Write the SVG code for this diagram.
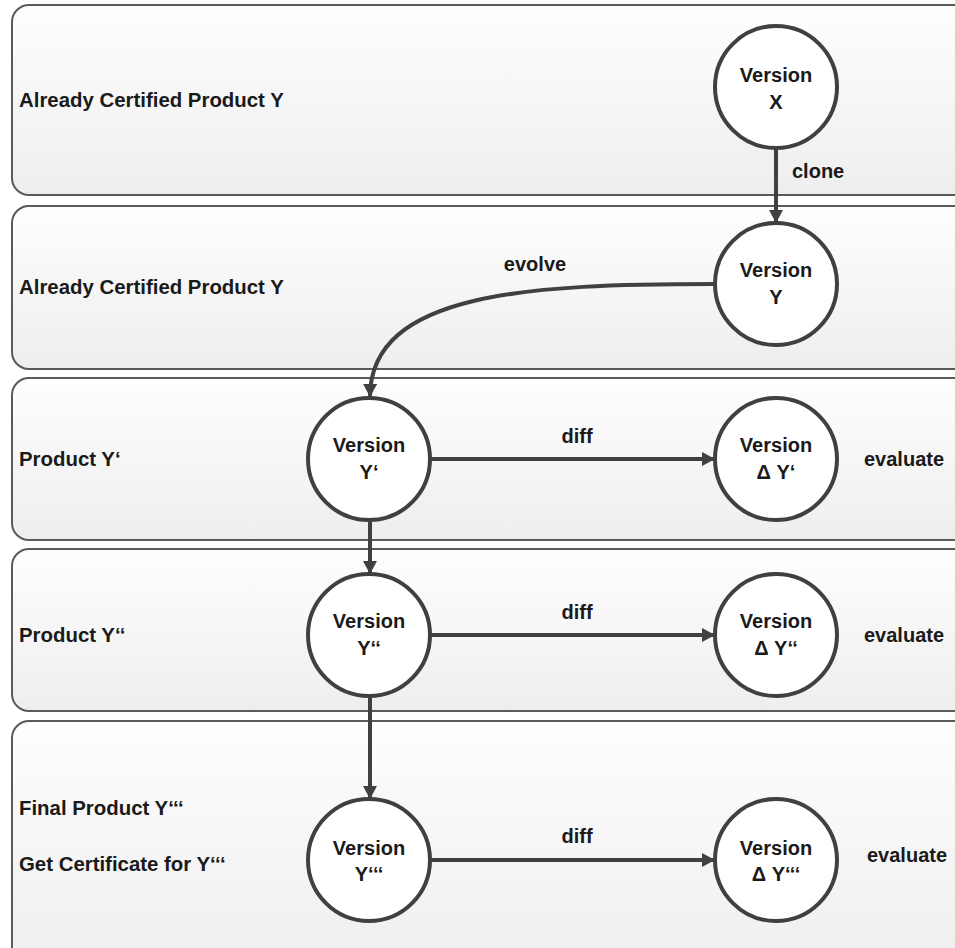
<svg xmlns="http://www.w3.org/2000/svg" width="955" height="948" viewBox="0 0 955 948">
  <defs>
    <linearGradient id="laneFill" x1="0" y1="0" x2="0" y2="1">
      <stop offset="0" stop-color="#fefefe"/>
      <stop offset="1" stop-color="#eeeeee"/>
    </linearGradient>
    <marker id="arrow" markerWidth="14" markerHeight="14" refX="12" refY="7" orient="auto" markerUnits="userSpaceOnUse">
      <path d="M0,0 L13,7 L0,14 Z" fill="#404040"/>
    </marker>
    <style>
      .lane { fill: url(#laneFill); stroke: #5a5a5a; stroke-width: 2; }
      .node { fill: #ffffff; stroke: #404040; stroke-width: 4; }
      .edge { fill: none; stroke: #404040; stroke-width: 4; marker-end: url(#arrow); }
      text { font-family: "Liberation Sans", Arial, sans-serif; font-weight: bold; font-size: 20px; fill: #1a1a1a; }
      .lbl { font-size: 20.4px; }
      .c { text-anchor: middle; }
    </style>
  </defs>

  <!-- swimlanes -->
  <g id="lanes">
    <rect class="lane" x="12" y="5" width="958" height="190" rx="17"/>
    <rect class="lane" x="12" y="206" width="958" height="163" rx="17"/>
    <rect class="lane" x="12" y="378" width="958" height="162" rx="17"/>
    <rect class="lane" x="12" y="549" width="958" height="162" rx="17"/>
    <rect class="lane" x="12" y="721" width="958" height="245" rx="17"/>
  </g>

  <!-- lane titles -->
  <g id="lane-labels">
    <text class="lbl" x="19" y="107">Already Certified Product Y</text>
    <text class="lbl" x="19" y="294">Already Certified Product Y</text>
    <text class="lbl" x="19" y="466">Product Y‘</text>
    <text class="lbl" x="19" y="642">Product Y‘‘</text>
    <text class="lbl" x="19" y="815">Final Product Y‘‘‘</text>
    <text class="lbl" x="19" y="871">Get Certificate for Y‘‘‘</text>
  </g>

  <!-- connectors -->
  <g id="connectors">
    <path class="edge" d="M776,148 L776,222"/>
    <path class="edge" d="M715,284 C530,284 371,292 370,396"/>
    <path class="edge" d="M430,459 L714,459"/>
    <path class="edge" d="M370,520 L370,573"/>
    <path class="edge" d="M430,635 L714,635"/>
    <path class="edge" d="M370,696 L370,798"/>
    <path class="edge" d="M430,860 L714,860"/>
    <text x="792" y="178">clone</text>
    <text class="c" x="535" y="271">evolve</text>
    <text class="c" x="577" y="443">diff</text>
    <text class="c" x="577" y="619">diff</text>
    <text class="c" x="577" y="843">diff</text>
  </g>

  <!-- version nodes -->
  <g id="node-x">
    <circle class="node" cx="776" cy="87" r="61"/>
    <text class="c" x="776" y="82">Version</text>
    <text class="c" x="776" y="109">X</text>
  </g>
  <g id="node-y">
    <circle class="node" cx="776" cy="284" r="61"/>
    <text class="c" x="776" y="277">Version</text>
    <text class="c" x="776" y="304">Y</text>
  </g>
  <g id="node-y1">
    <circle class="node" cx="369" cy="459" r="61"/>
    <text class="c" x="369" y="452">Version</text>
    <text class="c" x="369" y="479">Y‘</text>
  </g>
  <g id="node-dy1">
    <circle class="node" cx="776" cy="459" r="61"/>
    <text class="c" x="776" y="452">Version</text>
    <text class="c" x="776" y="479">Δ Y‘</text>
  </g>
  <g id="node-y2">
    <circle class="node" cx="369" cy="635" r="61"/>
    <text class="c" x="369" y="628">Version</text>
    <text class="c" x="369" y="655">Y‘‘</text>
  </g>
  <g id="node-dy2">
    <circle class="node" cx="776" cy="635" r="61"/>
    <text class="c" x="776" y="628">Version</text>
    <text class="c" x="776" y="655">Δ Y‘‘</text>
  </g>
  <g id="node-y3">
    <circle class="node" cx="369" cy="860" r="61"/>
    <text class="c" x="369" y="855">Version</text>
    <text class="c" x="369" y="881">Y‘‘‘</text>
  </g>
  <g id="node-dy3">
    <circle class="node" cx="776" cy="860" r="61"/>
    <text class="c" x="776" y="855">Version</text>
    <text class="c" x="776" y="881">Δ Y‘‘‘</text>
  </g>

  <!-- evaluation step labels -->
  <g id="evaluate-labels">
    <text x="864" y="466">evaluate</text>
    <text x="864" y="642">evaluate</text>
    <text x="867" y="862">evaluate</text>
  </g>
</svg>
